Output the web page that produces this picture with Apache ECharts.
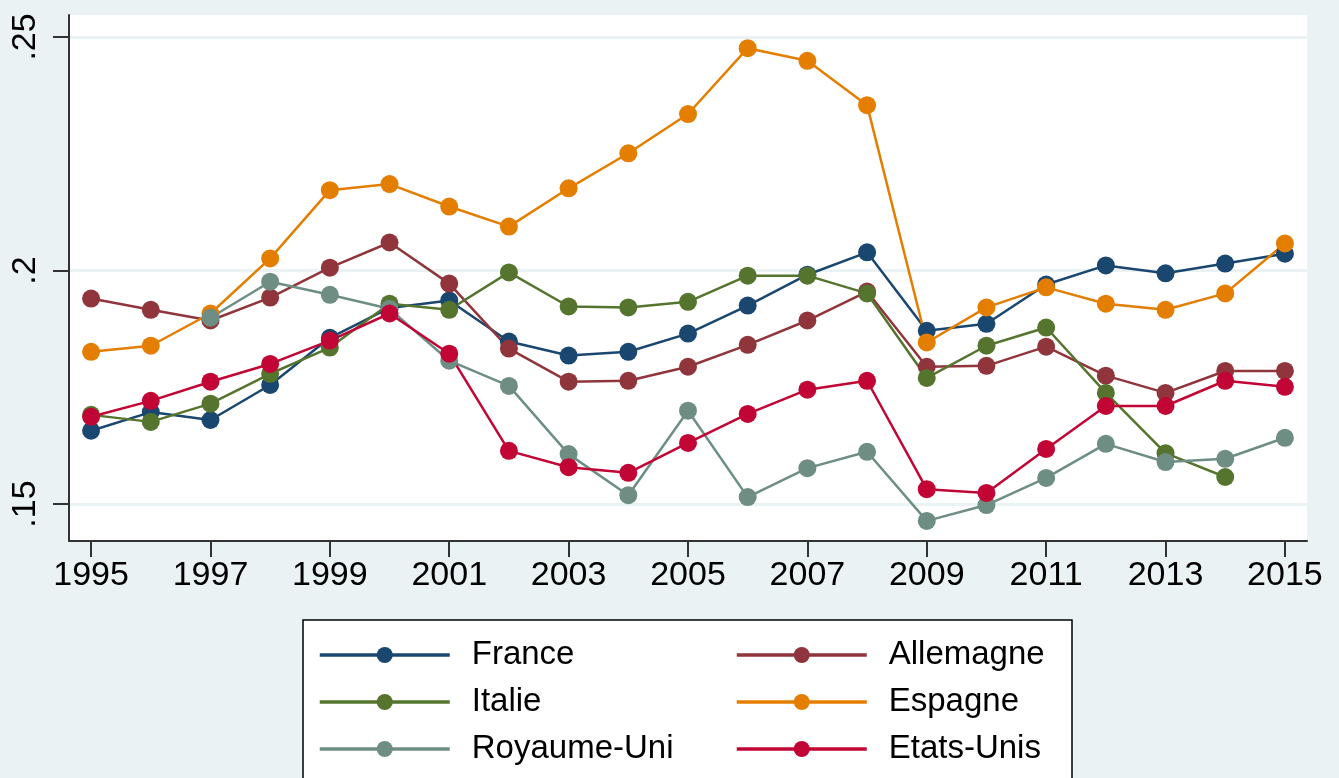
<!DOCTYPE html>
<html lang="fr">
<head>
    <meta charset="UTF-8">
    <title>Comparaison des pays 1995-2015</title>
    <script type="text/javascript" src="https://cdn.jsdelivr.net/npm/echarts@6/dist/echarts.min.js"></script>
    <style>
        html, body { margin: 0; padding: 0; background: #eaf2f3; }
        #chart { width: 1339px; height: 778px; }
    </style>
</head>
<body>
    <div id="chart"></div>
<script>
    // annees et valeurs
    var years = [1995, 1996, 1997, 1998, 1999, 2000, 2001, 2002, 2003, 2004, 2005,
                 2006, 2007, 2008, 2009, 2010, 2011, 2012, 2013, 2014, 2015];
    var xTicks = [1995, 1997, 1999, 2001, 2003, 2005, 2007, 2009, 2011, 2013, 2015];
    var yTicks = [0.15, 0.2, 0.25];

    var france     = [0.1657, 0.1697, 0.1680, 0.1755, 0.1856, 0.1920, 0.1936, 0.1848, 0.1818, 0.1826, 0.1865,
                      0.1925, 0.1991, 0.2039, 0.1871, 0.1886, 0.1970, 0.2011, 0.1994, 0.2015, 0.2036];
    var allemagne  = [0.1940, 0.1916, 0.1893, 0.1942, 0.2006, 0.2060, 0.1972, 0.1833, 0.1762, 0.1764, 0.1794,
                      0.1841, 0.1893, 0.1955, 0.1794, 0.1796, 0.1837, 0.1775, 0.1738, 0.1785, 0.1785];
    var italie     = [0.1691, 0.1676, 0.1715, 0.1779, 0.1835, 0.1929, 0.1916, 0.1996, 0.1923, 0.1921, 0.1933,
                      0.1989, 0.1989, 0.1951, 0.1770, 0.1839, 0.1878, 0.1738, 0.1609, 0.1558, null];
    var espagne    = [0.1826, 0.1839, 0.1908, 0.2026, 0.2172, 0.2185, 0.2137, 0.2094, 0.2176, 0.2251, 0.2335,
                      0.2476, 0.2449, 0.2354, 0.1846, 0.1921, 0.1964, 0.1929, 0.1916, 0.1951, 0.2058];
    var royaumeUni = [null, null, 0.1899, 0.1976, 0.1948, 0.1918, 0.1807, 0.1753, 0.1607, 0.1519, 0.1700,
                      0.1515, 0.1577, 0.1612, 0.1464, 0.1498, 0.1556, 0.1629, 0.1590, 0.1597, 0.1642];
    var etatsUnis  = [0.1687, 0.1721, 0.1762, 0.1800, 0.1850, 0.1908, 0.1822, 0.1614, 0.1579, 0.1567, 0.1631,
                      0.1693, 0.1745, 0.1764, 0.1532, 0.1524, 0.1618, 0.1710, 0.1710, 0.1764, 0.1751];

    var names  = ['France', 'Allemagne', 'Italie', 'Espagne', 'Royaume-Uni', 'Etats-Unis'];
    var values = [france, allemagne, italie, espagne, royaumeUni, etatsUnis];
    var colors = ['#1a476f', '#90353b', '#55752f', '#e37e00', '#6e8e84', '#c10534'];

    var font = 'Liberation Sans, Arial, sans-serif';

    var series = names.map(function (name, i) {
        return {
            name: name,
            type: 'line',
            symbol: 'circle',
            symbolSize: 18,
            showSymbol: true,
            connectNulls: false,
            color: colors[i],
            lineStyle: { width: 2.5 },
            data: years.map(function (y, k) { return [y, values[i][k]]; })
        };
    });

    var legendCommon = {
        orient: 'vertical',
        padding: 0,
        itemWidth: 130,
        itemHeight: 20,
        itemGap: 13,
        selectedMode: false,
        lineStyle: { width: 3.5 },
        textStyle: { fontSize: 33, color: '#000', fontFamily: font, lineHeight: 34, padding: [0, 0, 0, 17] }
    };

    var chart = echarts.init(document.getElementById('chart'));
    chart.setOption({
        animation: false,
        backgroundColor: '#eaf2f3',
        color: colors,
        graphic: [{
            type: 'rect',
            z: 0,
            shape: { x: 303, y: 620, width: 769, height: 200 },
            style: { fill: '#fff', stroke: '#000', lineWidth: 1.5 }
        }],
        legend: [
            Object.assign({ left: 318, top: 638, data: ['France', 'Italie', 'Royaume-Uni'] }, legendCommon),
            Object.assign({ left: 735, top: 638, data: ['Allemagne', 'Espagne', 'Etats-Unis'] }, legendCommon)
        ],
        grid: {
            left: 69, right: 32, top: 15, bottom: 237,
            show: true, backgroundColor: '#fff', borderWidth: 0
        },
        xAxis: {
            type: 'value',
            min: 1994.63,
            max: 2015.37,
            axisLine: { show: true, lineStyle: { color: '#333', width: 2 } },
            axisTick: { show: true, length: 16, lineStyle: { color: '#333', width: 2 }, customValues: xTicks },
            axisLabel: {
                customValues: xTicks, fontSize: 34, color: '#000', fontFamily: font, margin: 18,
                formatter: function (v) { return String(v); }
            },
            splitLine: { show: false }
        },
        yAxis: {
            type: 'value',
            min: 0.1421,
            max: 0.2547,
            axisLine: { show: true, lineStyle: { color: '#333', width: 2 } },
            axisTick: { show: true, length: 16, lineStyle: { color: '#333', width: 2 }, customValues: yTicks },
            axisLabel: {
                customValues: yTicks, rotate: 90, fontSize: 34, color: '#000', fontFamily: font, margin: 26,
                formatter: function (v) { return String(+v.toFixed(2)).replace(/^0/, ''); }
            },
            splitLine: { show: true, lineStyle: { color: '#eaf2f3', width: 3 } }
        },
        series: series
    });
    window.onresize = function () { chart.resize(); };
</script>
</body>
</html>
